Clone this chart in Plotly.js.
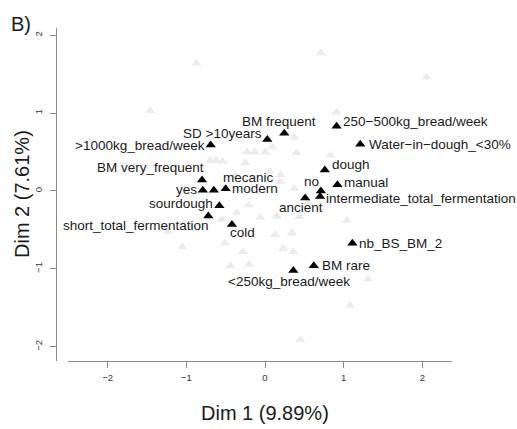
<!DOCTYPE html>
<html>
<head>
<meta charset="utf-8">
<script src="https://cdn.plot.ly/plotly-3.0.1.min.js"></script>
<style>html,body{margin:0;padding:0;background:#fff;}#chart{width:517px;height:429px;}</style>
</head>
<body>
<div id="chart"></div>
<script>
// Categories (black triangles)
var catNames = ["BM frequent","SD &gt;10years","&gt;1000kg_bread/week","BM very_frequent","yes","mecanic","modern","sourdough","short_total_fermentation","cold","&lt;250kg_bread/week","BM rare","nb_BS_BM_2","ancient","no","intermediate_total_fermentation","dough","manual","250\u2212500kg_bread/week","Water\u2212in\u2212dough_&lt;30%"];
var catDim1 = [0.245,0.029,-0.69,-0.80,-0.79,-0.65,-0.50,-0.58,-0.72,-0.42,0.36,0.62,1.11,0.51,0.71,0.70,0.76,0.92,0.91,1.21];
var catDim2 = [0.74,0.66,0.59,0.14,0.01,0.01,0.03,-0.19,-0.32,-0.43,-1.02,-0.96,-0.67,-0.09,0.00,-0.07,0.27,0.08,0.83,0.60];

// Individuals (light grey triangles)
var indDim1 = [-0.87,0.71,2.05,-1.46,0.91,0.37,-0.23,-0.13,0.00,0.09,0.40,0.83,-0.70,-0.62,-0.54,-0.25,-0.38,0.06,0.20,0.19,0.37,-0.21,-0.36,-0.55,-0.06,0.15,0.44,1.04,-1.05,-1.23,-0.51,-0.28,0.13,0.34,0.23,0.36,-0.44,-0.20,1.31,1.08,0.45,0.55];
var indDim2 = [1.64,1.77,1.46,1.03,1.01,0.69,0.50,0.50,0.50,0.56,0.49,0.46,0.39,0.39,0.38,0.36,0.21,0.25,0.21,0.12,0.03,-0.18,-0.28,-0.37,-0.34,-0.32,-0.33,-0.38,-0.72,-0.52,-0.67,-0.78,-0.56,-0.54,-0.74,-0.78,-0.96,-0.94,-1.13,-1.47,-1.91,-0.14];

var tickVals = [-2,-1,0,1,2];

// label placement: [xanchor, dx px, dy px (down positive)]
var labelPlace = [
  ["center",-4.8,-12],["right",-5.6,-6],["right",-5.7,0],["right",1.7,-12.5],
  ["right",-5.4,-0.5],["left",9.3,-12.5],["left",6,0],["right",-6.3,-2.5],
  ["right",1,9.3],["left",-1.7,8.2],["center",-4.3,11.2],["left",8.4,0],
  ["left",7,0.6],["center",-4.5,9.7],["right",-1.4,-9.7],["left",5.5,1.8],
  ["left",6.7,-5],["left",6.6,-2.5],["left",6,-4.5],["left",8.3,0]
];

var W = 517, H = 429;
var FONT = "Liberation Sans, Arial, Helvetica, sans-serif";

var traces = [
  {x: indDim1, y: indDim2, type: "scatter", mode: "markers",
   marker: {symbol: "triangle-up", size: 9, color: "#ebebeb"}, hoverinfo: "skip"},
  {x: catDim1, y: catDim2, type: "scatter", mode: "markers",
   marker: {symbol: "triangle-up", size: 9, color: "#000000"}, hoverinfo: "skip"}
];

var annotations = [];
for (var i = 0; i < catNames.length; i++) {
  var p = labelPlace[i];
  var adj = p[0] === "left" ? -1 : (p[0] === "right" ? 1 : 0);
  annotations.push({
    x: catDim1[i], y: catDim2[i], xref: "x", yref: "y",
    text: catNames[i], showarrow: false,
    xanchor: p[0], yanchor: "middle",
    xshift: p[1] + adj, yshift: -p[2],
    borderpad: 0,
    font: {family: FONT, size: 13.5, color: "#1a1a1a"}
  });
}
annotations.push({xref: "paper", yref: "paper", x: 265 / W, y: (H - 413) / H,
  text: "Dim 1 (9.89%)", showarrow: false, xanchor: "center", yanchor: "middle",
  font: {family: FONT, size: 20, color: "#1a1a1a"}});
annotations.push({xref: "paper", yref: "paper", x: 22 / W, y: (H - 194) / H,
  text: "Dim 2 (7.61%)", showarrow: false, xanchor: "center", yanchor: "middle",
  textangle: -90, font: {family: FONT, size: 20, color: "#1a1a1a"}});
annotations.push({xref: "paper", yref: "paper", x: 9 / W, y: (H - 24) / H,
  text: "B)", showarrow: false, xanchor: "left", yanchor: "middle",
  font: {family: FONT, size: 20, color: "#1a1a1a"}});

var layout = {
  width: W, height: H,
  margin: {l: 0, r: 0, t: 0, b: 0, pad: 0},
  paper_bgcolor: "#ffffff", plot_bgcolor: "#ffffff",
  showlegend: false,
  xaxis: {
    domain: [68 / W, 452 / W], range: [-2.503, 2.376],
    tickvals: tickVals, ticktext: tickVals.map(function(v){return v < 0 ? "\u2212" + (-v) : String(v);}),
    ticks: "outside", ticklen: 6, tickcolor: "#8a8a8a", tickwidth: 1,
    showline: true, linecolor: "#8a8a8a", linewidth: 1,
    showgrid: false, zeroline: false, automargin: false,
    ticklabelstandoff: 2,
    tickfont: {family: FONT, size: 9.5, color: "#333333"}
  },
  yaxis: {
    domain: [(H - 361) / H, (H - 28) / H], range: [-2.182, 2.092],
    anchor: "free", position: 56 / W,
    tickvals: tickVals, ticktext: tickVals.map(function(v){return v < 0 ? "\u2212" + (-v) : String(v);}),
    tickangle: -90,
    ticks: "outside", ticklen: 6, tickcolor: "#8a8a8a", tickwidth: 1,
    showline: true, linecolor: "#8a8a8a", linewidth: 1,
    showgrid: false, zeroline: false, automargin: false,
    ticklabelstandoff: 4,
    tickfont: {family: FONT, size: 9.5, color: "#333333"}
  },
  annotations: annotations
};

Plotly.newPlot("chart", traces, layout, {displayModeBar: false, staticPlot: true});
</script>
</body>
</html>
